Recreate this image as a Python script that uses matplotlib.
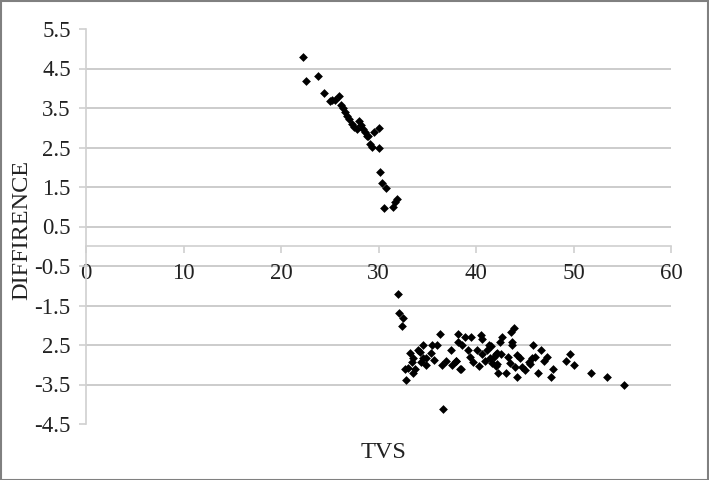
import matplotlib
matplotlib.use("Agg")
import matplotlib.pyplot as plt
from matplotlib.patches import Rectangle

plt.rcParams['font.family'] = ['Liberation Serif', 'DejaVu Serif']

# upper group (TVS up to ~32)
tvs_a = [22.3, 22.6, 23.8, 24.4, 25.2, 25.5, 25.9, 26.2, 26.4, 26.8, 27.0, 27.3,
         27.5, 28.0, 28.2, 28.4, 28.6, 28.9, 29.1, 29.3, 29.5, 30.0, 30.1, 30.2,
         30.4, 30.8, 30.6, 31.5, 31.7, 31.9, 25.0, 26.6, 27.8, 28.8]
diff_a = [4.79, 4.19, 4.30, 3.89, 3.69, 3.71, 3.81, 3.57, 3.49, 3.30, 3.22, 3.10,
          3.01, 3.16, 3.08, 2.96, 2.88, 2.79, 2.59, 2.51, 2.88, 2.99, 2.50, 1.88,
          1.61, 1.48, 0.98, 0.99, 1.12, 1.19, 3.68, 3.40, 2.98, 2.80]

# lower group (TVS from ~32)
tvs_b = [32.0, 32.1, 32.5, 32.4, 36.3, 38.2, 38.2, 34.6, 35.5, 36.0, 34.1, 33.2,
         34.3, 35.4, 37.4, 33.5, 34.6, 34.9, 35.7, 33.4, 34.4, 36.9, 37.9, 34.9,
         36.5, 37.5, 38.5, 32.7, 33.0, 33.7, 33.5, 32.8, 36.6,
         38.9, 39.5, 40.5, 40.6, 43.9, 43.6, 42.7, 42.5, 43.7, 43.7, 38.6, 39.2,
         40.1, 41.3, 41.5, 41.1, 40.6, 42.0, 42.2, 42.6, 37.9, 39.4, 39.7, 40.3,
         40.9, 41.4, 41.8, 41.6, 42.0, 42.2, 43.3, 44.2, 44.5, 43.5, 44.0, 44.7,
         45.0, 45.5, 45.7, 38.4, 42.3, 43.1, 44.2, 45.8,
         46.7, 46.1, 47.3, 47.0, 45.4, 46.4, 47.9, 47.7, 49.6, 49.2, 50.0, 51.8,
         53.4, 55.2]
diff_b = [-1.22, -1.70, -1.82, -2.01, -2.21, -2.21, -2.42, -2.49, -2.51, -2.51, -2.63, -2.70,
          -2.68, -2.70, -2.62, -2.82, -2.84, -2.82, -2.87, -2.93, -2.93, -2.91, -2.91, -3.01,
          -3.01, -3.01, -3.10, -3.10, -3.07, -3.12, -3.21, -3.39, -4.11,
          -2.30, -2.30, -2.24, -2.34, -2.08, -2.17, -2.30, -2.42, -2.42, -2.51, -2.51, -2.62,
          -2.62, -2.51, -2.53, -2.63, -2.72, -2.72, -2.70, -2.72, -2.90, -2.80, -2.93, -3.03,
          -2.90, -2.84, -2.80, -2.95, -3.04, -2.97, -2.80, -2.76, -2.84, -2.95, -3.06, -3.06,
          -3.14, -2.97, -2.84, -3.12, -3.21, -3.21, -3.32, -2.51,
          -2.62, -2.80, -2.80, -2.90, -2.93, -3.21, -3.12, -3.31, -2.72, -2.91, -3.01, -3.21,
          -3.32, -3.52]

x_ticks = [0, 10, 20, 30, 40, 50, 60]
y_ticks = [5.5, 4.5, 3.5, 2.5, 1.5, 0.5, -0.5, -1.5, -2.5, -3.5, -4.5]
y_labels = ['5.5', '4.5', '3.5', '2.5', '1.5', '0.5', '-0.5', '-1.5', '2.5', '-3.5', '-4.5']

W, H = 709, 480
fig = plt.figure(figsize=(W / 100, H / 100), dpi=100)
ax = fig.add_axes([86 / W, 1 - 424 / H, (671 - 86) / W, (424 - 29) / H])

grid_c = '#c4c4c4'
for y in y_ticks[1:-1]:
    ax.axhline(y, color=grid_c, lw=1.2, zorder=1)

ax.scatter(tvs_a + tvs_b, diff_a + diff_b, marker='D', s=20, color='black',
           linewidths=0, zorder=3)

ax.set_xlim(0, 60)
ax.set_ylim(-4.5, 5.5)
ax.set_xticks(x_ticks)
ax.set_xticklabels([str(t) for t in x_ticks])
ax.set_yticks(y_ticks)
ax.set_yticklabels(y_labels)

for s in ['top', 'right']:
    ax.spines[s].set_visible(False)
ax.spines['bottom'].set_position(('data', 0))
ax.spines['bottom'].set_color('#d0d0d0')
ax.spines['left'].set_color('#d0d0d0')
ax.spines['bottom'].set_linewidth(1.2)
ax.spines['left'].set_linewidth(1.2)
ax.tick_params(axis='both', colors='#d0d0d0', labelcolor='#222222',
               labelsize=16.5, length=5, width=1.2, direction='out')
ax.tick_params(axis='y', pad=6)
ax.tick_params(axis='x', pad=7)

fig.text(22 / W, 1 - 230 / H, 'DIFFIRENCE', rotation=90, ha='center', va='center',
         fontsize=17.5, color='#222222')
fig.text(383 / W, 1 - 453 / H, 'TVS', ha='center', va='center',
         fontsize=17.5, color='#222222')

fig.patches.append(Rectangle((0.001, 0.001), 0.997, 0.997, transform=fig.transFigure,
                             fill=False, edgecolor='#808080', lw=1.5))

fig.savefig('out.png', dpi=100)
